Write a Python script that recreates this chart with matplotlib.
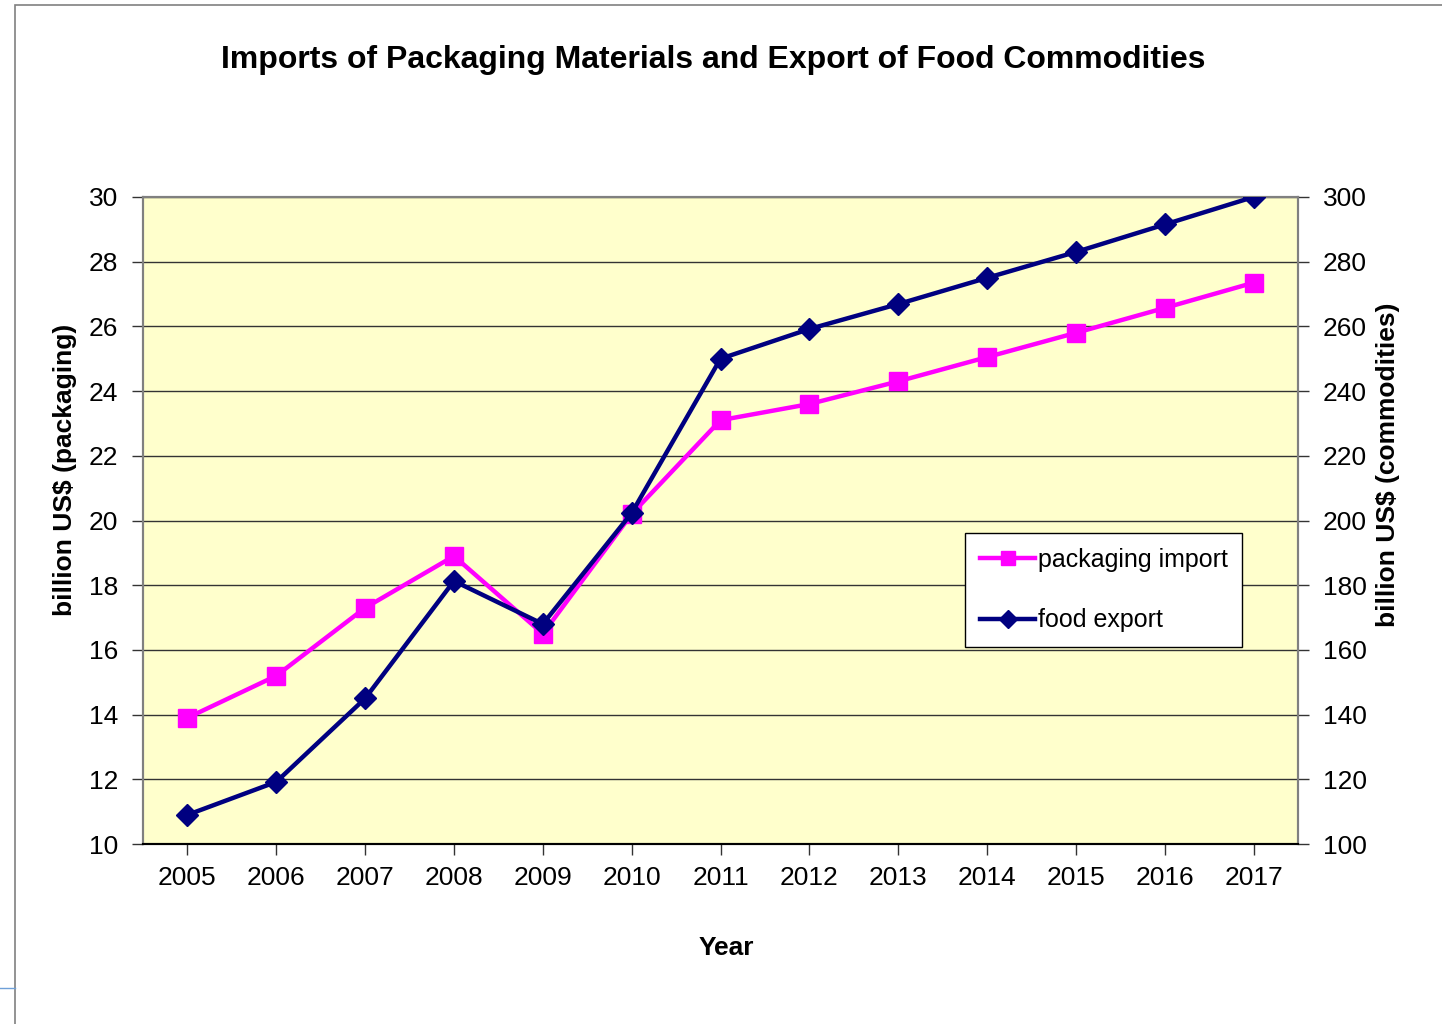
import matplotlib
matplotlib.use("Agg")
import matplotlib.pyplot as plt
from matplotlib.lines import Line2D
from matplotlib.patches import Rectangle

plt.rcParams['font.family'] = ['Liberation Sans', 'DejaVu Sans']

years = [2005, 2006, 2007, 2008, 2009, 2010, 2011, 2012, 2013, 2014, 2015, 2016, 2017]
packaging_import = [13.9, 15.2, 17.3, 18.9, 16.5, 20.2, 23.1, 23.6, 24.3, 25.05, 25.8, 26.57, 27.35]
food_export = [109, 119.2, 145, 181.3, 168, 202.3, 250, 259.2, 266.9, 275, 283, 291.5, 300]
left_ticks = [10, 12, 14, 16, 18, 20, 22, 24, 26, 28, 30]
right_ticks = [100, 120, 140, 160, 180, 200, 220, 240, 260, 280, 300]

fig = plt.figure(figsize=(14.42, 10.24), dpi=100)
W, H = 1442, 1024
ax = fig.add_axes([143 / W, 1 - 844 / H, (1298 - 143) / W, (844 - 197) / H])
ax.set_facecolor('#FFFFCC')

# outer chart border
fig.patches.append(Rectangle((15 / W, -0.1), 2, 1 - 5 / H + 0.1, transform=fig.transFigure,
                             fill=False, edgecolor='#808080', linewidth=1.2))
fig.lines.append(Line2D([0, 15 / W], [1 - 988 / H, 1 - 988 / H], transform=fig.transFigure,
                        color='#6fa0d8', linewidth=1))

ax.set_xlim(2004.5, 2017.5)
ax.set_ylim(10, 30)
ax.set_yticks(left_ticks)
ax.set_xticks(years)
ax.grid(axis='y', color='#333333', linewidth=1)
ax.set_axisbelow(True)

ln1, = ax.plot(years, packaging_import, color='#FF00FF', linewidth=3.2, marker='s',
               markersize=13, zorder=3)

ax2 = ax.twinx()
ax2.set_ylim(100, 300)
ax2.set_yticks(right_ticks)
ln2, = ax2.plot(years, food_export, color='#000080', linewidth=3.2, marker='D',
                markersize=11, zorder=3)

for a in (ax, ax2):
    for s in a.spines.values():
        s.set_color('#808080')
        s.set_linewidth(1.5)
    a.spines['bottom'].set_color('black')
    a.tick_params(labelsize=19, length=8, width=1, color='#333333', direction='out')
ax.tick_params(axis='x', pad=8)
ax.tick_params(axis='y', pad=10)
ax2.tick_params(axis='y', pad=10)

ax.set_xlabel('Year', fontsize=19, fontweight='bold')
ax.xaxis.set_label_coords((726 - 143) / 1155, (844 - 948) / 647)
ax.xaxis.label.set_va('center')
ax.set_ylabel('billion US$ (packaging)', fontsize=19, fontweight='bold')
ax.yaxis.set_label_coords((65 - 143) / 1155, (844 - 470) / 647)
ax.yaxis.label.set_va('center')
ax2.set_ylabel('billion US$ (commodities)', fontsize=19, fontweight='bold')
ax2.yaxis.set_label_coords((1388 - 143) / 1155, (844 - 465) / 647)
ax2.yaxis.label.set_va('center')

fig.text(713 / W, 1 - 60 / H, 'Imports of Packaging Materials and Export of Food Commodities',
         fontsize=23, fontweight='bold', ha='center', va='center')

leg = ax2.legend([ln1, ln2], ['packaging import', 'food export'], loc='upper left',
                 bbox_to_anchor=((965 - 143) / 1155, (844 - 533) / 647),
                 fontsize=18, frameon=True, fancybox=False, edgecolor='black',
                 framealpha=1, handlelength=2.2, handletextpad=0.1, labelspacing=1.45,
                 borderpad=0.6, markerscale=0.8, borderaxespad=0)
leg.get_frame().set_linewidth(1)

fig.savefig('out.png', dpi=100)
